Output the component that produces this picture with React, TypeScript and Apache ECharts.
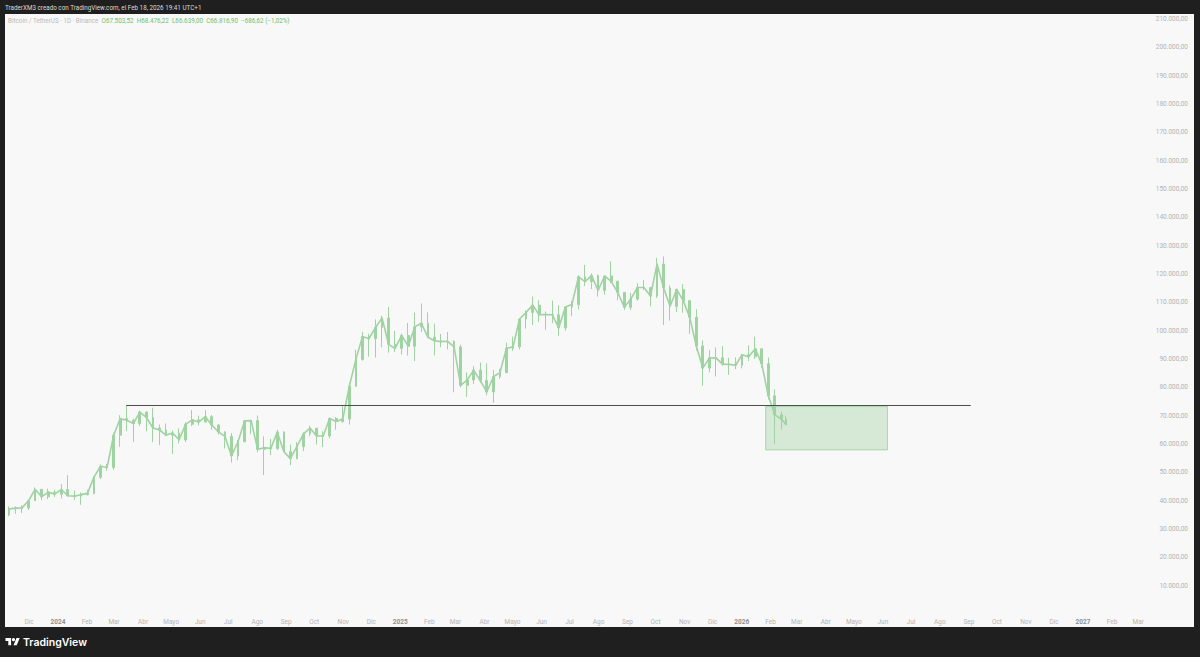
import React, { useEffect, useRef } from "react";
import * as echarts from "echarts";

// ---------- texts ----------
const HEADER_TEXT = "TraderXM3 creado con TradingView.com, el Feb 18, 2026 19:41 UTC+1";
const SYMBOL_TEXT = "Bitcoin / TetherUS · 1D · Binance";
const OHLC_TEXT = "O67.503,52  H68.476,22  L66.639,00  C66.816,90  −686,62 (−1,02%)";
const BRAND_TEXT = "TradingView";

// ---------- weekly candles [weekStart, open, high, low, close] ----------
const BTC_2023: [string, number, number, number, number][] = [
  ["2023-11-06", 35050, 37980, 34520, 37060],
  ["2023-11-13", 37060, 37990, 35360, 37360],
  ["2023-11-20", 37360, 38420, 35630, 37450],
  ["2023-11-27", 37450, 39980, 36700, 39970],
  ["2023-12-04", 39970, 44700, 39970, 43990],
  ["2023-12-11", 43990, 43990, 40200, 41360],
  ["2023-12-18", 41360, 44280, 40530, 43010],
  ["2023-12-25", 43010, 43800, 41300, 42280],
];
const BTC_2024: [string, number, number, number, number][] = [
  ["2024-01-01", 42280, 45880, 40750, 43940],
  ["2024-01-08", 43940, 48970, 41500, 41730],
  ["2024-01-15", 41730, 43580, 40280, 41580],
  ["2024-01-22", 41580, 42840, 38550, 42120],
  ["2024-01-29", 42120, 43880, 41880, 42580],
  ["2024-02-05", 42580, 48590, 42250, 48300],
  ["2024-02-12", 48300, 52820, 47700, 52140],
  ["2024-02-19", 52140, 52990, 50520, 51730],
  ["2024-02-26", 51730, 64000, 50900, 63110],
  ["2024-03-04", 63110, 70140, 59000, 68950],
  ["2024-03-11", 68950, 73777, 64530, 68390],
  ["2024-03-18", 68390, 68920, 60775, 67210],
  ["2024-03-25", 67210, 71770, 66380, 71280],
  ["2024-04-01", 71280, 71380, 64490, 69360],
  ["2024-04-08", 69360, 72800, 60660, 65660],
  ["2024-04-15", 65660, 66870, 59600, 64940],
  ["2024-04-22", 64940, 67230, 62790, 63120],
  ["2024-04-29", 63120, 64730, 56550, 63890],
  ["2024-05-06", 63890, 65500, 60180, 61480],
  ["2024-05-13", 61480, 67700, 60750, 66940],
  ["2024-05-20", 66940, 71980, 66320, 68510],
  ["2024-05-27", 68510, 70000, 66600, 67760],
  ["2024-06-03", 67760, 71950, 67600, 69650],
  ["2024-06-10", 69650, 70200, 65060, 66680],
  ["2024-06-17", 66680, 67000, 63380, 64250],
  ["2024-06-24", 64250, 64500, 58400, 62680],
  ["2024-07-01", 62680, 63860, 53480, 55860],
  ["2024-07-08", 55860, 61420, 54260, 60800],
  ["2024-07-15", 60800, 68370, 60630, 68160],
  ["2024-07-22", 68160, 68480, 63460, 68250],
  ["2024-07-29", 68250, 70080, 57120, 58110],
  ["2024-08-05", 58110, 62700, 49000, 58710],
  ["2024-08-12", 58710, 61800, 56080, 58430],
  ["2024-08-19", 58430, 65000, 57860, 64180],
  ["2024-08-26", 64180, 64480, 57200, 57300],
  ["2024-09-02", 57300, 59800, 52550, 54840],
  ["2024-09-09", 54840, 60650, 54580, 59130],
  ["2024-09-16", 59130, 64130, 57500, 63580],
  ["2024-09-23", 63580, 66500, 62700, 65600],
  ["2024-09-30", 65600, 65620, 59830, 62800],
  ["2024-10-07", 62800, 64480, 58900, 62850],
  ["2024-10-14", 62850, 69400, 62000, 69000],
  ["2024-10-21", 69000, 69520, 65050, 67950],
  ["2024-10-28", 67950, 73620, 67480, 68780],
  ["2024-11-04", 68780, 81500, 66830, 80370],
  ["2024-11-11", 80370, 93260, 80200, 89850],
  ["2024-11-18", 89850, 99590, 89370, 97900],
  ["2024-11-25", 97900, 98870, 90790, 97180],
  ["2024-12-02", 97180, 104000, 90500, 101110],
  ["2024-12-09", 101110, 105250, 94150, 104460],
  ["2024-12-16", 104460, 108350, 92230, 95180],
  ["2024-12-23", 95180, 99960, 92400, 93720],
  ["2024-12-30", 93720, 98980, 91530, 98310],
];
const BTC_2025: [string, number, number, number, number][] = [
  ["2025-01-06", 98310, 102720, 91200, 94500],
  ["2025-01-13", 94500, 106400, 89260, 101330],
  ["2025-01-20", 101330, 109590, 99500, 102620],
  ["2025-01-27", 102620, 106460, 97400, 97700],
  ["2025-02-03", 97700, 102500, 91230, 96460],
  ["2025-02-10", 96460, 98830, 94100, 96140],
  ["2025-02-17", 96140, 99500, 93400, 96250],
  ["2025-02-24", 96250, 96500, 78260, 94270],
  ["2025-03-03", 94270, 95000, 80000, 80700],
  ["2025-03-10", 80700, 85300, 76600, 82580],
  ["2025-03-17", 82580, 87450, 81100, 86080],
  ["2025-03-24", 86080, 88760, 81600, 82390],
  ["2025-03-31", 82390, 88500, 77150, 78370],
  ["2025-04-07", 78370, 86100, 74500, 83750],
  ["2025-04-14", 83750, 86500, 83000, 85170],
  ["2025-04-21", 85170, 95750, 85150, 93750],
  ["2025-04-28", 93750, 97900, 92800, 94280],
  ["2025-05-05", 94280, 104360, 93380, 104120],
  ["2025-05-12", 104120, 107100, 100700, 106450],
  ["2025-05-19", 106450, 111980, 102000, 109000],
  ["2025-05-26", 109000, 110720, 103100, 105640],
  ["2025-06-02", 105640, 106800, 100370, 105700],
  ["2025-06-09", 105700, 110600, 102660, 105600],
  ["2025-06-16", 105600, 108950, 98200, 101000],
  ["2025-06-23", 101000, 108500, 100000, 108350],
  ["2025-06-30", 108350, 110500, 105100, 109200],
  ["2025-07-07", 109200, 119500, 107450, 119000],
  ["2025-07-14", 119000, 123200, 115700, 117300],
  ["2025-07-21", 117300, 120250, 114700, 119450],
  ["2025-07-28", 119450, 119800, 112000, 114200],
  ["2025-08-04", 114200, 119300, 112650, 119300],
  ["2025-08-11", 119300, 124470, 116800, 117400],
  ["2025-08-18", 117400, 117600, 110700, 113500],
  ["2025-08-25", 113500, 113650, 107300, 108250],
  ["2025-09-01", 108250, 113400, 107270, 111150],
  ["2025-09-08", 111150, 116800, 110600, 115250],
  ["2025-09-15", 115250, 117900, 114400, 115230],
  ["2025-09-22", 115230, 115300, 108600, 112200],
  ["2025-09-29", 112200, 125700, 111550, 123500],
  ["2025-10-06", 123500, 126200, 102000, 115100],
  ["2025-10-13", 115100, 116000, 103500, 108600],
  ["2025-10-20", 108600, 114000, 106600, 114550],
  ["2025-10-27", 114550, 116400, 106300, 110600],
  ["2025-11-03", 110600, 110800, 98900, 104700],
  ["2025-11-10", 104700, 107500, 93000, 94600],
  ["2025-11-17", 94600, 96600, 80600, 86800],
  ["2025-11-24", 86800, 93100, 85300, 90400],
  ["2025-12-01", 90400, 94100, 83800, 90400],
  ["2025-12-08", 90400, 94600, 87600, 88200],
  ["2025-12-15", 88200, 90400, 84400, 88100],
  ["2025-12-22", 88100, 90600, 86400, 87800],
  ["2025-12-29", 87800, 91800, 86700, 91500],
];
const BTC_2026: [string, number, number, number, number][] = [
  ["2026-01-05", 91500, 94800, 89300, 90800],
  ["2026-01-12", 90800, 97900, 90000, 93600],
  ["2026-01-19", 93600, 93700, 86900, 88300],
  ["2026-01-26", 88300, 90500, 75700, 77000],
  ["2026-02-02", 77000, 79300, 60000, 70300],
  ["2026-02-09", 70300, 71500, 65100, 68800],
  ["2026-02-16", 68800, 70000, 66640, 66817],
];
const LAST_DATE = "2026-02-18";
const LAST_PRICE = 66816.9;

// ---------- annotations ----------
const RESISTANCE_PRICE = 73777;
const RESISTANCE_DATES = ["2024-03-14", "2026-09-03"];
const ZONE_DATES = ["2026-01-26T16:00:00Z", "2026-06-06T00:00:00Z"];
const ZONE_PRICES = [73200, 57900];

// ---------- axes ----------
const MONTH_NAMES = ["Ene", "Feb", "Mar", "Abr", "Mayo", "Jun", "Jul", "Ago", "Sep", "Oct", "Nov", "Dic"];
const FIRST_TICK_MONTH = [2023, 11]; // Dec 2023 (0-based month)
const TICK_MONTH_COUNT = 40; // Dec 2023 .. Mar 2027
const X_RANGE = ["2023-11-05T08:00:00Z", "2027-03-08T07:00:00Z"];
const Y_MIN = 0;
const Y_MAX = 211760;
const Y_STEP = 10000;
const Y_LABEL_TOP = 210000;

const DAY = 86400000;
const FONT = "Roboto, 'Noto Sans', sans-serif";

function fmtPrice(v: number): string {
  const [i, d] = v.toFixed(2).split(".");
  return i.replace(/\B(?=(\d{3})+(?!\d))/g, ".") + "," + d;
}

const TV_LOGO = "M14 22H7V11H0V4h14v18zM28 22h-8l7.5-18h8L28 22z";
let logoRegistered = false;

export default function App() {
  const ref = useRef<HTMLDivElement>(null);

  useEffect(() => {
    if (!logoRegistered) {
      echarts.graphic.registerShape("tvlogo", echarts.graphic.extendPath(TV_LOGO, {}));
      logoRegistered = true;
    }
    const chart = echarts.init(ref.current!, null, { renderer: "svg" });

    const weekly = [...BTC_2023, ...BTC_2024, ...BTC_2025, ...BTC_2026];
    const endT = Date.parse(LAST_DATE) + DAY;
    const candles = weekly.map(([d, o, h, l, c]) => {
      const s = Date.parse(d);
      const e = Math.min(s + 7 * DAY, endT);
      return [(s + e) / 2, o, c, l, h];
    });
    const closes = candles.map((k) => [k[0], k[2]]);

    const monthTicks: number[] = [];
    for (let k = 0; k < TICK_MONTH_COUNT; k++) {
      const m = FIRST_TICK_MONTH[1] + k;
      monthTicks.push(Date.UTC(FIRST_TICK_MONTH[0] + Math.floor(m / 12), m % 12, 1));
    }

    const green = "#9fd3a2";

    chart.setOption({
      animation: false,
      backgroundColor: "#1f1f1f",
      textStyle: { fontFamily: FONT },
      grid: { left: 5, right: 55, top: 14, bottom: 43, containLabel: false },
      xAxis: {
        type: "value",
        min: Date.parse(X_RANGE[0]),
        max: Date.parse(X_RANGE[1]),
        scale: true,
        axisLine: { show: false },
        axisTick: { show: false },
        splitLine: { show: false },
        axisLabel: {
          customValues: monthTicks,
          margin: 4,
          fontSize: 6.5,
          color: "#b4b4b4",
          fontFamily: FONT,
          hideOverlap: false,
          formatter: (v: number) => {
            const d = new Date(v);
            const m = d.getUTCMonth();
            return m === 0 ? `{y|${d.getUTCFullYear()}}` : `{m|${MONTH_NAMES[m]}}`;
          },
          rich: {
            y: { fontSize: 6.5, fontWeight: "bold", color: "#8f8f8f", fontFamily: FONT },
            m: { fontSize: 6.5, color: "#b4b4b4", fontFamily: FONT },
          },
        },
      },
      yAxis: {
        type: "value",
        position: "right",
        min: Y_MIN,
        max: Y_MAX,
        interval: Y_STEP,
        axisLine: { show: false },
        axisTick: { show: false },
        splitLine: { show: false },
        axisLabel: {
          align: "right",
          margin: 43,
          fontSize: 6.5,
          color: "#b2b2b2",
          fontFamily: FONT,
          showMaxLabel: false,
          formatter: (v: number) =>
            v <= 0 || v % Y_STEP !== 0 || v > Y_LABEL_TOP ? "" : fmtPrice(v),
        },
      },
      series: [
        {
          type: "line",
          data: closes,
          showSymbol: false,
          symbol: "none",
          silent: true,
          z: 3,
          lineStyle: { color: green, width: 1.6, join: "round" },
        },
        {
          type: "candlestick",
          data: candles,
          encode: { x: 0, y: [1, 2, 3, 4] },
          barWidth: 2.2,
          z: 4,
          itemStyle: {
            color: green,
            color0: green,
            borderColor: green,
            borderColor0: green,
            borderWidth: 1,
          },
          markArea: {
            silent: true,
            itemStyle: {
              color: "rgba(76,175,80,0.2)",
              borderColor: "rgba(76,175,80,0.38)",
              borderWidth: 1,
            },
            data: [
              [
                { coord: [Date.parse(ZONE_DATES[0]), ZONE_PRICES[0]] },
                { coord: [Date.parse(ZONE_DATES[1]), ZONE_PRICES[1]] },
              ],
            ],
          },
          markLine: {
            silent: true,
            symbol: ["none", "none"],
            data: [
              [
                {
                  coord: [Date.parse(RESISTANCE_DATES[0]), RESISTANCE_PRICE],
                  lineStyle: { color: "#4d4d4d", width: 1, type: "solid" },
                  label: { show: false },
                },
                {
                  coord: [Date.parse(RESISTANCE_DATES[1]), RESISTANCE_PRICE],
                  lineStyle: { color: "#4d4d4d", width: 1, type: "solid" },
                  label: { show: false },
                },
              ],
              {
                yAxis: LAST_PRICE,
                lineStyle: { opacity: 0, width: 0 },
                label: {
                  show: true,
                  position: "end",
                  distance: 8,
                  formatter: () => fmtPrice(LAST_PRICE),
                  backgroundColor: "#6cbf6f",
                  color: "#123d14",
                  fontSize: 6.5,
                  fontFamily: FONT,
                  padding: [2, 2, 1.5, 2],
                  borderRadius: 1,
                },
              },
            ],
          },
        },
      ],
      graphic: [
        {
          type: "rect",
          z: -10,
          silent: true,
          shape: { x: 5, y: 14, width: 1189, height: 613 },
          style: { fill: "#f8f8f8" },
        },
        {
          type: "text",
          x: 5,
          y: 7.5,
          silent: true,
          style: {
            text: HEADER_TEXT,
            fill: "#dcdcdc",
            fontSize: 6.3,
            fontFamily: FONT,
            verticalAlign: "middle",
          },
        },
        {
          type: "text",
          x: 8,
          y: 20.5,
          silent: true,
          style: {
            text: `{a|${SYMBOL_TEXT}}  {b|${OHLC_TEXT}}`,
            fontSize: 6.3,
            fontFamily: FONT,
            verticalAlign: "middle",
            rich: {
              a: { fill: "#b9b9b9", fontSize: 6.3, fontFamily: FONT },
              b: { fill: "#6cbf6f", fontSize: 6.3, fontFamily: FONT },
            },
          },
        },
        {
          type: "group",
          x: 5.5,
          y: 636.5,
          scaleX: 0.4,
          scaleY: 0.4,
          silent: true,
          children: [
            { type: "tvlogo", style: { fill: "#ffffff" } },
            { type: "circle", shape: { cx: 20, cy: 8, r: 4 }, style: { fill: "#ffffff" } },
          ],
        },
        {
          type: "text",
          x: 23,
          y: 642.5,
          silent: true,
          style: {
            text: BRAND_TEXT,
            fill: "#ffffff",
            fontSize: 10.5,
            fontWeight: 600,
            fontFamily: "Inter, Roboto, sans-serif",
            verticalAlign: "middle",
          },
        },
      ],
    });

    return () => chart.dispose();
  }, []);

  return (
    <div
      ref={ref}
      style={{ position: "fixed", left: 0, top: 0, width: 1200, height: 657 }}
    />
  );
}
